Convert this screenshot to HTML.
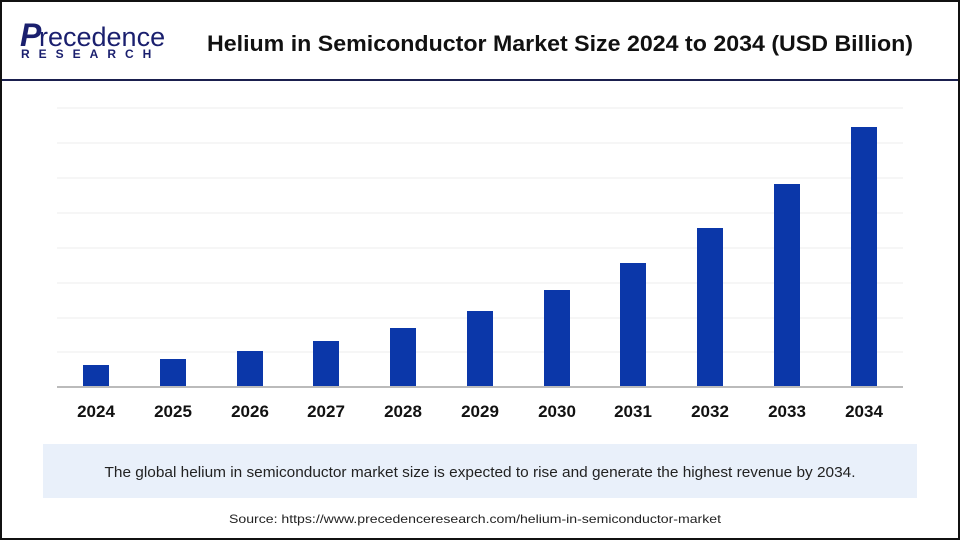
<!DOCTYPE html>
<html><head><style>
body{margin:0;width:960px;height:540px;overflow:hidden;background:#fff;font-family:"Liberation Sans",sans-serif}
.frame{position:absolute;left:0;top:0;width:956px;height:536px;border:2px solid #111}
</style></head><body>
<div class="frame"></div>
<svg width="960" height="540" style="position:absolute;left:0;top:0">
<text x="20" y="46" font-size="32" fill="#1a1f6e" font-weight="bold" font-style="italic">P</text>
<text x="39" y="46" font-size="27" fill="#1a1f6e">recedence</text>
<text x="21" y="58" font-size="12" fill="#1a1f6e" font-weight="bold" letter-spacing="9">RESEARCH</text>
<text x="560" y="51" font-size="22" font-weight="bold" text-anchor="middle" fill="#111" textLength="706" lengthAdjust="spacingAndGlyphs">Helium in Semiconductor Market Size 2024 to 2034 (USD Billion)</text>
<rect x="2" y="79" width="956" height="2" fill="#1a1f4e"/>
<g stroke="#eeeeee" stroke-width="1">
<line x1="57" x2="903" y1="108" y2="108"/><line x1="57" x2="903" y1="143" y2="143"/>
<line x1="57" x2="903" y1="178" y2="178"/><line x1="57" x2="903" y1="213" y2="213"/>
<line x1="57" x2="903" y1="248" y2="248"/><line x1="57" x2="903" y1="283" y2="283"/>
<line x1="57" x2="903" y1="318" y2="318"/><line x1="57" x2="903" y1="352" y2="352"/>
</g>
<g fill="#0b37a9">
<rect x="83" y="365" width="26" height="21"/>
<rect x="160" y="359" width="26" height="27"/>
<rect x="237" y="351" width="26" height="35"/>
<rect x="313" y="341" width="26" height="45"/>
<rect x="390" y="328" width="26" height="58"/>
<rect x="467" y="311" width="26" height="75"/>
<rect x="544" y="290" width="26" height="96"/>
<rect x="620" y="263" width="26" height="123"/>
<rect x="697" y="228" width="26" height="158"/>
<rect x="774" y="184" width="26" height="202"/>
<rect x="851" y="127" width="26" height="259"/>
</g>
<rect x="57" y="386" width="846" height="2" fill="#bbbbbb"/>
<g font-size="17" font-weight="bold" text-anchor="middle" fill="#111">
<text x="96" y="417">2024</text><text x="173" y="417">2025</text><text x="250" y="417">2026</text>
<text x="326" y="417">2027</text><text x="403" y="417">2028</text><text x="480" y="417">2029</text>
<text x="557" y="417">2030</text><text x="633" y="417">2031</text><text x="710" y="417">2032</text>
<text x="787" y="417">2033</text><text x="864" y="417">2034</text>
</g>
<rect x="43" y="444" width="874" height="54" fill="#e9f0fa"/>
<text x="480" y="477" font-size="15" text-anchor="middle" fill="#222" textLength="751" lengthAdjust="spacingAndGlyphs">The global helium in semiconductor market size is expected to rise and generate the highest revenue by 2034.</text>
<text x="475" y="523" font-size="12" text-anchor="middle" fill="#222" textLength="492" lengthAdjust="spacingAndGlyphs">Source: https://www.precedenceresearch.com/helium-in-semiconductor-market</text>
</svg>
</body></html>
